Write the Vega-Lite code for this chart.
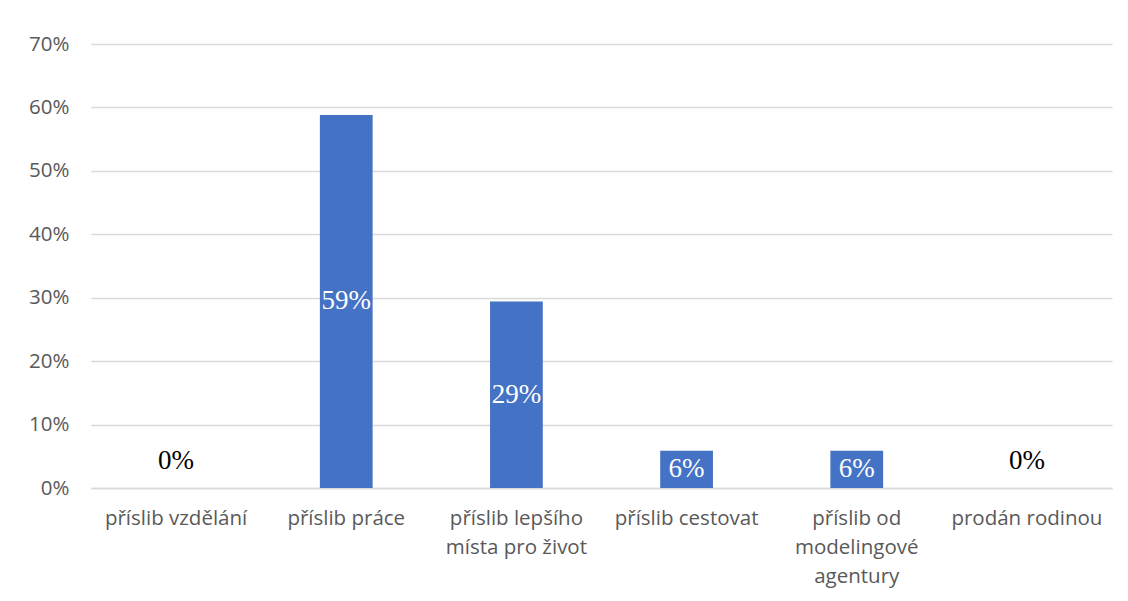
{
  "$schema": "https://vega.github.io/schema/vega-lite/v6.json",
  "autosize": "none",
  "width": 1021,
  "height": 444,
  "padding": {"left": 91, "top": 44, "right": 16, "bottom": 113},
  "background": "white",
  "config": {"view": {"stroke": null}},
  "data": {
    "values": [
      {"kategorie": "příslib vzdělání", "podil": 0},
      {"kategorie": "příslib práce", "podil": 0.5882},
      {"kategorie": "příslib lepšího místa pro život", "podil": 0.2941},
      {"kategorie": "příslib cestovat", "podil": 0.0588},
      {"kategorie": "příslib od modelingové agentury", "podil": 0.0588},
      {"kategorie": "prodán rodinou", "podil": 0}
    ]
  },
  "encoding": {
    "x": {
      "field": "kategorie",
      "type": "nominal",
      "sort": null,
      "scale": {"paddingInner": 0.69, "paddingOuter": 0.345},
      "axis": {
        "title": null,
        "labelAngle": 0,
        "labelFont": "Open Sans",
        "labelFontSize": 20.5,
        "labelColor": "#595959",
        "labelPadding": 20,
        "labelLineHeight": 29,
        "labelBaseline": "top",
        "ticks": false,
        "domainColor": "#d9d9d9",
        "domainWidth": 1.5,
        "labelExpr": "datum.value == 'příslib lepšího místa pro život' ? ['příslib lepšího', 'místa pro život'] : datum.value == 'příslib od modelingové agentury' ? ['příslib od', 'modelingové', 'agentury'] : datum.value"
      }
    }
  },
  "layer": [
    {
      "mark": {"type": "bar", "color": "#4472C4"},
      "encoding": {
        "y": {
          "field": "podil",
          "type": "quantitative",
          "scale": {"domain": [0, 0.7]},
          "axis": {
            "title": null,
            "format": ".0%",
            "values": [0, 0.1, 0.2, 0.3, 0.4, 0.5, 0.6, 0.7],
            "labelFont": "Open Sans",
            "labelFontSize": 20.5,
            "labelColor": "#595959",
            "labelPadding": 22,
            "ticks": false,
            "domain": false,
            "gridColor": "#d9d9d9",
            "gridWidth": 1.5
          }
        }
      }
    },
    {
      "transform": [
        {"filter": "datum.podil > 0"},
        {"calculate": "datum.podil / 2", "as": "stred"}
      ],
      "mark": {"type": "text", "font": "Liberation Serif", "fontSize": 27, "color": "white", "baseline": "middle"},
      "encoding": {
        "y": {"field": "stred", "type": "quantitative"},
        "text": {"field": "podil", "type": "quantitative", "format": ".0%"}
      }
    },
    {
      "transform": [{"filter": "datum.podil == 0"}],
      "mark": {"type": "text", "font": "Liberation Serif", "fontSize": 27, "color": "black", "baseline": "middle", "dy": -27},
      "encoding": {
        "y": {"field": "podil", "type": "quantitative"},
        "text": {"field": "podil", "type": "quantitative", "format": ".0%"}
      }
    }
  ]
}
